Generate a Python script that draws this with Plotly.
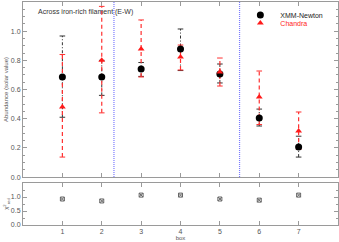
import plotly.graph_objects as go

boxes = [1, 2, 3, 4, 5, 6, 7]
xmm_val = [0.686, 0.686, 0.74, 0.878, 0.706, 0.405, 0.206]
xmm_hi = [0.967, 0.80, 0.785, 1.015, 0.775, 0.466, 0.28]
xmm_lo = [0.41, 0.56, 0.69, 0.73, 0.645, 0.35, 0.137]
chandra_val = [0.48, 0.80, 0.878, 0.823, 0.72, 0.549, 0.315]
chandra_hi = [0.84, 1.17, 1.077, 0.905, 0.816, 0.727, 0.446]
chandra_lo = [0.137, 0.44, 0.686, 0.734, 0.624, 0.36, 0.19]
chi2_red = [0.93, 0.86, 1.07, 1.07, 0.93, 0.89, 1.07]
divider_x = [2.31, 5.5]

AX = "#9a9a9a"
TXT = "#555555"
FONT = "Liberation Sans, Arial, sans-serif"

def seg(xs, lo, hi):
    X, Y = [], []
    for x, a, b in zip(xs, lo, hi):
        X += [x, x, None]
        Y += [a, b, None]
    return X, Y

fig = go.Figure()

# XMM error bars (dash-dot black)
X, Y = seg(boxes, xmm_lo, xmm_hi)
fig.add_trace(go.Scatter(x=X, y=Y, mode="lines", line=dict(color="#333", width=1, dash="3px,2px,1px,2px"),
                         showlegend=False, hoverinfo="skip", xaxis="x", yaxis="y"))
fig.add_trace(go.Scatter(x=boxes + boxes, y=xmm_lo + xmm_hi, mode="markers",
                         marker=dict(symbol="line-ew", size=4, line=dict(color="#333", width=1)),
                         showlegend=False, hoverinfo="skip", xaxis="x", yaxis="y"))
# Chandra error bars (dashed red)
X, Y = seg(boxes, chandra_lo, chandra_hi)
fig.add_trace(go.Scatter(x=X, y=Y, mode="lines", line=dict(color="#ff3030", width=1.2, dash="4px,3px"),
                         showlegend=False, hoverinfo="skip", xaxis="x", yaxis="y"))
fig.add_trace(go.Scatter(x=boxes + boxes, y=chandra_lo + chandra_hi, mode="markers",
                         marker=dict(symbol="line-ew", size=4, line=dict(color="#ff3030", width=1)),
                         showlegend=False, hoverinfo="skip", xaxis="x", yaxis="y"))

fig.add_trace(go.Scatter(x=boxes, y=xmm_val, mode="markers", name="XMM-Newton", legend="legend",
                         marker=dict(symbol="circle", size=7, color="black"), xaxis="x", yaxis="y"))
fig.add_trace(go.Scatter(x=boxes, y=chandra_val, mode="markers", name="Chandra", legend="legend2",
                         marker=dict(symbol="triangle-up", size=6, color="#ff1a1a"), xaxis="x", yaxis="y"))

fig.add_trace(go.Scatter(x=boxes, y=chi2_red, mode="markers", showlegend=False,
                         marker=dict(symbol="square-x-open", size=4, color="#666", line=dict(width=1)),
                         xaxis="x2", yaxis="y2"))

for xv in divider_x:
    fig.add_shape(type="line", x0=xv, x1=xv, y0=0, y1=1, xref="x", yref="y domain",
                  line=dict(color="#7a7aff", width=1.2, dash="1px,1px"))

axis_common = dict(showline=True, linecolor=AX, linewidth=1, mirror="ticks", ticks="inside",
                   tickcolor=AX, ticklen=4, showgrid=False, zeroline=False, automargin=False,
                   tickfont=dict(size=7, color=TXT, family=FONT))

legend_common = dict(xanchor="left", yanchor="middle", bgcolor="rgba(0,0,0,0)",
                     itemwidth=30, itemsizing="trace", borderwidth=0)

fig.update_layout(
    width=339, height=242,
    margin=dict(l=23, r=1, t=2, b=17, autoexpand=False),
    paper_bgcolor="white", plot_bgcolor="white",
    font=dict(family=FONT, size=7, color=TXT),
    xaxis=dict(domain=[0, 1], range=[0, 8], anchor="y", matches="x2", showticklabels=False,
               tickvals=boxes, **axis_common),
    yaxis=dict(domain=[0.215, 1], range=[0, 1.2], anchor="x", tickvals=[0, 0.2, 0.4, 0.6, 0.8, 1.0, 1.2],
               ticktext=["0.0", "0.2", "0.4", "0.6", "0.8", "1.0", "1.2"],
               minor=dict(ticks="inside", dtick=0.05, ticklen=2, tickcolor=AX),
               title=dict(text="Abundance (solar value)", font=dict(size=6, color=TXT), standoff=1),
               **axis_common),
    xaxis2=dict(domain=[0, 1], range=[0, 8], anchor="y2", tickvals=boxes,
                title=dict(text="box", font=dict(size=6, color=TXT), standoff=0), **axis_common),
    yaxis2=dict(domain=[0, 0.188], range=[0, 1.5], anchor="x2", tickvals=[0, 0.5, 1.0],
                ticktext=["0.0", "0.5", "1.0"],
                minor=dict(ticks="inside", dtick=0.25, ticklen=2, tickcolor=AX),
                title=dict(text="χ<sup>2</sup><sub>red</sub>", font=dict(size=6, color=TXT), standoff=1),
                **axis_common),
    legend=dict(x=0.69, y=0.942, font=dict(size=7, family=FONT, color="#222"), **legend_common),
    legend2=dict(x=0.69, y=0.906, font=dict(size=7, family=FONT, color="#ff1a1a"), **legend_common),
    annotations=[dict(text="Across iron-rich filament (E-W)", x=0.04, y=0.955, xref="paper", yref="paper",
                      xanchor="left", yanchor="middle", showarrow=False,
                      font=dict(size=7, color="#333", family=FONT))],
    showlegend=True,
)

fig.write_html("out.html", config={"displayModeBar": False},
               post_script="document.body.style.margin='0';document.body.style.padding='0';")
